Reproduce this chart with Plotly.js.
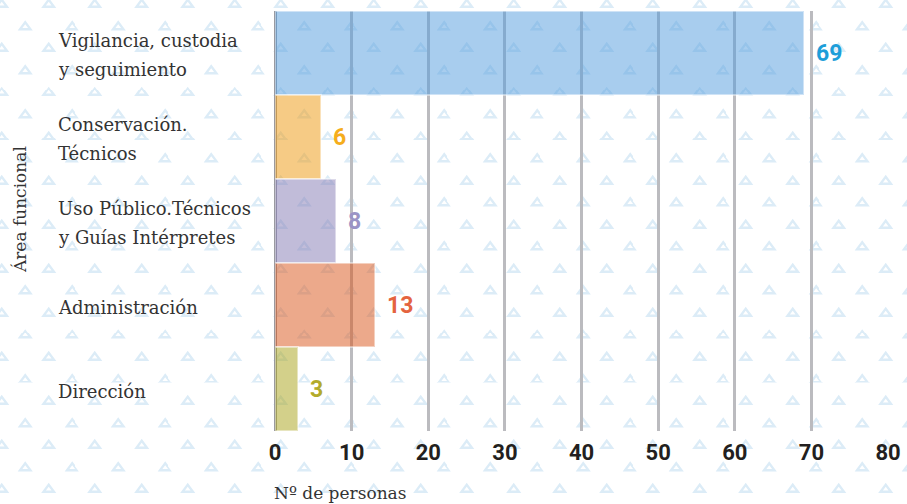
<!DOCTYPE html>
<html>
<head>
<meta charset="utf-8">
<script src="https://cdn.plot.ly/plotly-3.0.1.min.js"></script>
<style>
  html, body {
    margin: 0;
    padding: 0;
    background-color: #ffffff;
    background-image: url("data:image/svg+xml;utf8,<svg xmlns='http://www.w3.org/2000/svg' width='46.5' height='44.1'><g fill='none' stroke='%23dcecf7' stroke-width='2.3'><path d='M11.6 7.6 L16.8 14.5 L6.4 14.5 Z'/><path d='M34.85 29.65 L40.05 36.55 L29.65 36.55 Z'/></g></svg>");
    background-size: 46.5px 44.1px;
    background-position: -9.6px -7.5px;
  }
  #plot { width: 907px; height: 504px; }
</style>
</head>
<body>
<div id="plot"></div>
<script>
// Categories (top to bottom) and number of people
var categories = [
  "Vigilancia, custodia<br>y seguimiento",
  "Conservación.<br>Técnicos",
  "Uso Público.Técnicos<br>y Guías Intérpretes",
  "Administración",
  "Dirección"
];
var personas = [69, 6, 8, 13, 3];

var barColors = [
  "rgba(81, 155, 221, 0.5)",
  "rgba(237, 151, 12, 0.5)",
  "rgba(131, 121, 179, 0.5)",
  "rgba(217, 83, 23, 0.5)",
  "rgba(167, 161, 21, 0.5)"
];
var labelColors = ["#1d9ed9", "#f5ad1c", "#9b94c6", "#e4643f", "#b3ab2b"];

var xTicks = [0, 10, 20, 30, 40, 50, 60, 70, 80];

var serif = "DejaVu Serif";
var textColor = "#333333";

var trace = {
  type: "bar",
  orientation: "h",
  x: personas,
  y: categories,
  marker: {
    color: barColors,
    line: { color: "rgba(255,255,255,0.45)", width: 2 }
  },
  hoverinfo: "x+y"
};

// category labels, left aligned, one annotation per line
var annotations = [];
categories.forEach(function (cat, i) {
  var lines = cat.split("<br>");
  lines.forEach(function (line, j) {
    annotations.push({
      xref: "paper", yref: "y",
      x: 0, y: cat,
      xshift: -219,
      yshift: ((lines.length - 1) / 2 - j) * 29 - 2,
      xanchor: "left", yanchor: "middle",
      text: line,
      showarrow: false,
      font: { family: serif, size: 18, color: textColor }
    });
  });
});

// value labels
personas.forEach(function (v, i) {
  annotations.push({
    xref: "x", yref: "y",
    x: v, y: categories[i],
    xanchor: "left", yanchor: "middle",
    xshift: 10,
    text: String(v),
    showarrow: false,
    font: { family: "Roboto", size: 23, weight: 700, color: labelColors[i] }
  });
});

// axis titles
annotations.push({
  xref: "paper", yref: "paper",
  x: 0, y: 0.526, xshift: -255,
  xanchor: "center", yanchor: "middle",
  textangle: -90,
  text: "Área funcional",
  showarrow: false,
  font: { family: serif, size: 17, color: textColor }
});
annotations.push({
  xref: "paper", yref: "paper",
  x: 0, y: 0, xshift: -3, yshift: -62,
  xanchor: "left", yanchor: "middle",
  text: "Nº de personas",
  showarrow: false,
  font: { family: serif, size: 17, color: textColor }
});

var layout = {
  width: 907,
  height: 504,
  margin: { l: 275, r: 19, t: 11, b: 73 },
  paper_bgcolor: "rgba(0,0,0,0)",
  plot_bgcolor: "rgba(0,0,0,0)",
  showlegend: false,
  bargap: 0,
  xaxis: {
    range: [0, 80],
    tickvals: xTicks,
    showgrid: true,
    gridcolor: "#bbbbbf",
    gridwidth: 2.5,
    zeroline: true,
    zerolinecolor: "#9a9aa0",
    zerolinewidth: 3,
    showline: false,
    ticks: "",
    ticklabelstandoff: 6,
    tickfont: { family: "Roboto", size: 22, weight: 700, color: "#231f20" }
  },
  yaxis: {
    type: "category",
    autorange: "reversed",
    showgrid: false,
    zeroline: false,
    showticklabels: false,
    ticks: ""
  },
  annotations: annotations
};

Plotly.newPlot("plot", [trace], layout, { displayModeBar: false });
</script>
</body>
</html>
